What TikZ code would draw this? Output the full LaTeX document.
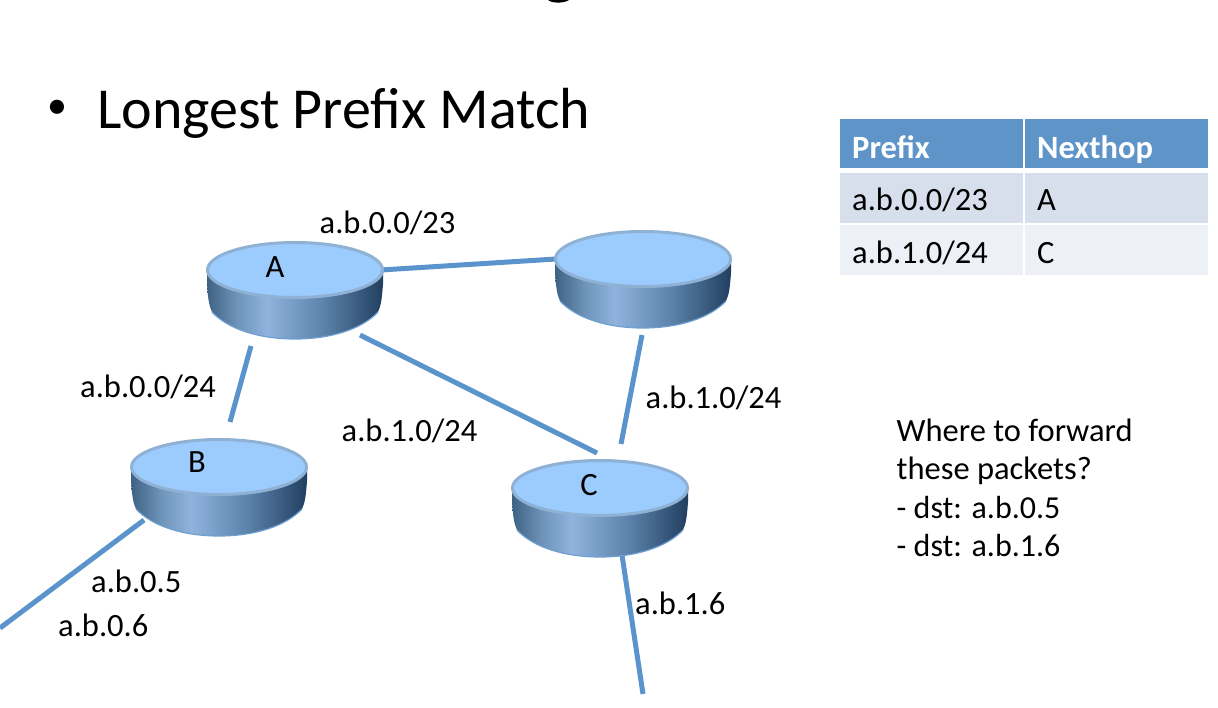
\documentclass[tikz,border=0pt]{standalone}
\usepackage{fontspec}
\setmainfont{Carlito}
\usetikzlibrary{shapes.geometric,calc}
\definecolor{linkblue}{HTML}{5B94CC}
\definecolor{toptop}{HTML}{9CCBFD}
\definecolor{toprim}{HTML}{8FB1D4}
\definecolor{headblue}{HTML}{5F94C9}
\definecolor{rowa}{HTML}{D8DFEC}
\definecolor{rowb}{HTML}{EDF0F6}
\definecolor{rb1}{HTML}{3E6283}
\definecolor{rb2}{HTML}{7096BC}
\definecolor{rb3}{HTML}{8FB3DC}
\definecolor{rb4}{HTML}{5C83AB}
\definecolor{rb5}{HTML}{213F60}
\definecolor{rbedge}{HTML}{6F9FD0}
\pgfdeclarehorizontalshading{routershade}{100bp}{
  color(0bp)=(rb1);
  color(25bp)=(rb1);
  color(34bp)=(rb2);
  color(42bp)=(rb3);
  color(58bp)=(rb4);
  color(75bp)=(rb5);
  color(100bp)=(rb5)}
\tikzset{
  x=1pt,y=-1pt,
  linkline/.style={draw=linkblue,line width=5pt},
  lbl/.style={font=\fontsize{32.5}{38}\selectfont,anchor=base west,inner sep=0pt,text=black},
  headlbl/.style={lbl,text=white,font=\fontsize{32.5}{38}\selectfont\bfseries},
  titletext/.style={font=\fontsize{58}{66}\selectfont,anchor=base west,inner sep=0pt},
  routertop/.style={ellipse,fill=toptop,draw=toprim,line width=3pt,minimum width=175pt,minimum height=55pt,inner sep=0pt},
  routerbody/.style={shading=routershade,shading angle=0},
  routeredge/.style={draw=rbedge,line width=1.2pt},
}
\newcommand{\routerat}[3]{% name, x, y
  \path[routerbody] (#2-88,#3) -- (#2-88,#3+14)
    .. controls (#2-87,#3+28) and (#2-86,#3+36) .. (#2-83,#3+42)
    .. controls (#2-66,#3+60) and (#2-34,#3+69) .. (#2,#3+69)
    .. controls (#2+34,#3+69) and (#2+66,#3+60) .. (#2+83,#3+42)
    .. controls (#2+86,#3+36) and (#2+87,#3+28) .. (#2+88,#3+14)
    -- (#2+88,#3) -- cycle;
  \draw[routeredge] (#2-83,#3+42)
    .. controls (#2-66,#3+60) and (#2-34,#3+69) .. (#2,#3+69)
    .. controls (#2+34,#3+69) and (#2+66,#3+60) .. (#2+83,#3+42);
  \node[routertop] (#1) at (#2,#3) {};
}
\begin{document}
\begin{tikzpicture}
\useasboundingbox (0,0) rectangle (1218,708);
\fill[white] (0,0) rectangle (1218,708);
% the tail of a cropped letter at the top edge
\fill[black] (548,0) .. controls (552,3.5) and (564,3.5) .. (569,0) -- cycle;
\node[titletext,font=\fontsize{40}{46}\selectfont] (bullet) at (47.5,119) {•};
\node[titletext] (title) at (97,129) {Longest Prefix Match};
% connector ends
\coordinate (aright) at (381,270);
\coordinate (rleft) at (556,259);
\coordinate (abot) at (251,346);
\coordinate (btop) at (230,422);
\coordinate (abr) at (360,335);
\coordinate (ctl) at (597,453);
\coordinate (rbot) at (642,335);
\coordinate (ctr) at (621,444);
\coordinate (bbot) at (144,520);
\coordinate (bfree) at (0,628);
\coordinate (cbot) at (622,555);
\coordinate (cfree) at (643,694);
\draw[linkline] (aright) -- (rleft);
\draw[linkline] (abot) -- (btop);
\draw[linkline] (abr) -- (ctl);
\draw[linkline] (rbot) -- (ctr);
\draw[linkline] (bbot) -- (bfree);
\draw[linkline] (cbot) -- (cfree);
\routerat{ra}{295}{270}
\routerat{rr}{643}{259}
\routerat{rb}{219}{467}
\routerat{rc}{600}{488}
\node[lbl,anchor=base] (la) at (275,278) {A};
\node[lbl,anchor=base] (lb) at (197,472) {B};
\node[lbl,anchor=base] (lc) at (589,495) {C};
\node[lbl] (l1) at (319.5,234) {a.b.0.0/23};
\node[lbl] (l2) at (80,398) {a.b.0.0/24};
\node[lbl] (l3) at (341.5,441) {a.b.1.0/24};
\node[lbl] (l4) at (645.5,408) {a.b.1.0/24};
\node[lbl] (l5) at (91,592) {a.b.0.5};
\node[lbl] (l6) at (58,636) {a.b.0.6};
\node[lbl] (l7) at (635,614) {a.b.1.6};
\node[lbl] (q1) at (896.5,441) {Where to forward};
\node[lbl] (q2) at (896.5,479) {these packets?};
\node[lbl,font=\fontsize{32}{38}\selectfont] (q3) at (896.5,518) {- dst: a.b.0.5};
\node[lbl,font=\fontsize{32}{38}\selectfont] (q4) at (896.5,556) {- dst: a.b.1.6};
% table
\fill[headblue] (840,119) rectangle (1023,168);
\fill[headblue] (1025,119) rectangle (1208,168);
\fill[rowa] (840,173) rectangle (1023,223);
\fill[rowa] (1025,173) rectangle (1208,223);
\fill[rowb] (840,225) rectangle (1023,275);
\fill[rowb] (1025,225) rectangle (1208,275);
\node[headlbl] (t1) at (852,159) {Prefix};
\node[headlbl] (t2) at (1037,159) {Nexthop};
\node[lbl] (t3) at (852,211) {a.b.0.0/23};
\node[lbl] (t4) at (1037,211) {A};
\node[lbl] (t5) at (852,264) {a.b.1.0/24};
\node[lbl] (t6) at (1037,264) {C};
\end{tikzpicture}
\end{document}
